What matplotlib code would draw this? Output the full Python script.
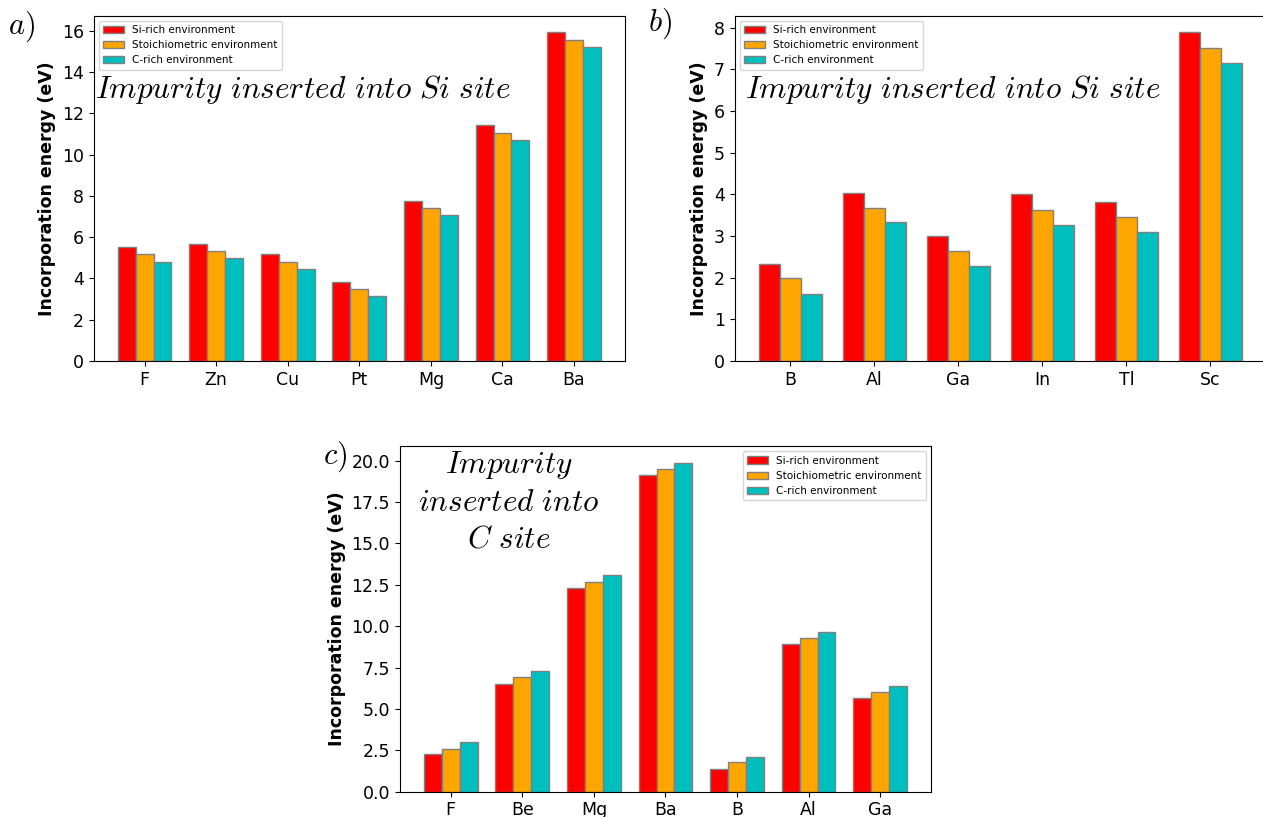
import numpy as np
import matplotlib
matplotlib.use('agg')
from matplotlib import pyplot as plt

matplotlib.rc('font', family='sans-serif', size=12.5)
matplotlib.rc('mathtext', fontset='cm')

series_names = ['Si-rich environment', 'Stoichiometric environment', 'C-rich environment']
series_colors = ['red', 'orange', 'c']

# a) impurity on Si site
a_labels = ['F', 'Zn', 'Cu', 'Pt', 'Mg', 'Ca', 'Ba']
a_si_rich = [5.52, 5.67, 5.17, 3.82, 7.77, 11.42, 15.94]
a_stoich = [5.17, 5.33, 4.81, 3.48, 7.42, 11.06, 15.58]
a_c_rich = [4.81, 4.97, 4.47, 3.13, 7.06, 10.72, 15.24]

# b) impurity on Si site (group III + Sc)
b_labels = ['B', 'Al', 'Ga', 'In', 'Tl', 'Sc']
b_si_rich = [2.32, 4.02, 2.99, 4.01, 3.81, 7.89]
b_stoich = [1.98, 3.67, 2.64, 3.62, 3.45, 7.51]
b_c_rich = [1.62, 3.33, 2.28, 3.27, 3.09, 7.15]

# c) impurity on C site
c_labels = ['F', 'Be', 'Mg', 'Ba', 'B', 'Al', 'Ga']
c_si_rich = [2.29, 6.50, 12.33, 19.13, 1.38, 8.95, 5.63]
c_stoich = [2.59, 6.90, 12.69, 19.49, 1.78, 9.27, 5.99]
c_c_rich = [2.98, 7.29, 13.10, 19.88, 2.11, 9.64, 6.38]


def incorporationBars(ax, labels, data, legend_loc):
    x = np.arange(len(labels))
    w = 0.25
    for k, vals in enumerate(data):
        ax.bar(x + (k - 1) * w, vals, width=w, color=series_colors[k],
               edgecolor='grey', linewidth=1, label=series_names[k])
    ax.set_xticks(x)
    ax.set_xticklabels(labels)
    ax.set_ylabel('Incorporation energy (eV)', fontweight='bold')
    ax.legend(loc=legend_loc, fontsize=7.5)


fig = plt.figure(figsize=(12.63, 8.17), dpi=100)

axw, axh = 0.4208, 0.4227
ax_a = fig.add_axes([0.0741, 0.5581, axw, axh])
ax_b = fig.add_axes([0.5816, 0.5581, axw, axh])
ax_c = fig.add_axes([0.3165, 0.0311, axw, axh])

incorporationBars(ax_a, a_labels, [a_si_rich, a_stoich, a_c_rich], 'upper left')
incorporationBars(ax_b, b_labels, [b_si_rich, b_stoich, b_c_rich], 'upper left')
incorporationBars(ax_c, c_labels, [c_si_rich, c_stoich, c_c_rich], 'upper right')

ax_a.text(0.002, 0.786, r'$Impurity\ inserted\ into\ Si\ site$',
          transform=ax_a.transAxes, fontsize=22.5, va='center', ha='left')
ax_b.text(0.019, 0.786, r'$Impurity\ inserted\ into\ Si\ site$',
          transform=ax_b.transAxes, fontsize=22.5, va='center', ha='left')
ax_c.text(0.205, 0.841, '$Impurity$\n$inserted\\ into$\n$C\\ site$',
          transform=ax_c.transAxes, fontsize=22.5, va='center', ha='center',
          multialignment='center', linespacing=1.3)

fig.text(0.0063, 0.967, '$a)$', fontsize=22, va='center', ha='left')
fig.text(0.513, 0.971, '$b)$', fontsize=22, va='center', ha='left')
fig.text(0.2557, 0.4406, '$c)$', fontsize=22, va='center', ha='left')

plt.savefig('out.png', format='png', dpi=100)
plt.close()
